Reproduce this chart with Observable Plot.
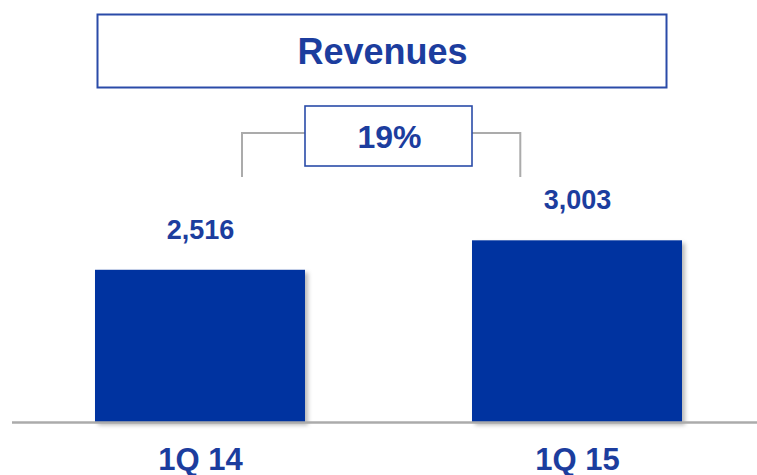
<!DOCTYPE html>
<html>
<head>
<meta charset="utf-8">
<script src="https://cdn.jsdelivr.net/npm/d3@7"></script>
<script src="https://cdn.jsdelivr.net/npm/@observablehq/plot@0.6"></script>
<style>
  html, body { margin: 0; padding: 0; background: #ffffff; }
  #chart { width: 757px; height: 475px; }
  .bars rect { filter: drop-shadow(3px 3px 2px rgba(0,0,0,0.28)); }
</style>
</head>
<body>
<div id="chart"></div>
<script>
// ---- data ----
const categories = ["1Q 14", "1Q 15"];
const revenues = [2516, 3003];
const valueLabels = ["2,516", "3,003"];
const titleText = "Revenues";
const growthLabel = "19%";

// ---- styling ----
const BAR = "#0033A0";
const TXT = "#1C3D9E";
const BOX = "#2A4BA8";
const GREY = "#ABABAB";
const FONT = "'Liberation Sans', Arial, Helvetica, sans-serif";
const padInner = 0.443;

const rows = categories.map((c, i) => ({cat: c, value: revenues[i], label: valueLabels[i]}));

// decorative boxes and bracket
function decorations(index, scales, values, dimensions) {
  const x = scales.x;
  const step = x(categories[1]) - x(categories[0]);
  let bw = x.bandwidth;
  if (typeof bw === "function") bw = bw();
  if (!(bw > 0)) bw = step * (1 - padInner);
  const x0 = x(categories[0]), x1 = x(categories[1]);
  const g = d3.create("svg:g");
  // title box
  g.append("rect").attr("x", 97.5).attr("y", 14.5).attr("width", 569).attr("height", 73)
    .attr("fill", "none").attr("stroke", BOX).attr("stroke-width", 2);
  // bracket
  const bl = x0 + bw * 0.70, br = x1 + bw * 0.23;
  const boxL = x0 + bw, boxR = x1;
  g.append("path")
    .attr("d", `M${bl},177V133H${boxL}M${boxR},133H${br}V177`)
    .attr("fill", "none").attr("stroke", GREY).attr("stroke-width", 2);
  // growth box
  g.append("rect").attr("x", boxL).attr("y", 106).attr("width", boxR - boxL).attr("height", 60)
    .attr("fill", "#fff").attr("stroke", BOX).attr("stroke-width", 1.6);
  return g.node();
}

const chart = Plot.plot({
  width: 757,
  height: 475,
  marginTop: 0,
  marginBottom: 53,
  marginLeft: 12,
  marginRight: 0,
  style: {fontFamily: FONT, background: "#fff", overflow: "visible"},
  x: {domain: categories, paddingInner: padInner, paddingOuter: 0.2095, align: 0.525, axis: null},
  y: {domain: [0, 6975], axis: null},
  marks: [
    Plot.barY(rows, {x: "cat", y: "value", fill: BAR, className: "bars"}),
    Plot.ruleY([0], {stroke: GREY, strokeWidth: 2.5}),
    Plot.text(rows, {x: "cat", y: "value", text: "label", dy: -40, fill: TXT,
      fontSize: 27, fontWeight: "bold", fontFamily: FONT}),
    Plot.axisX({tickSize: 0, tickPadding: 25, fontSize: 31, fontWeight: "bold",
      fill: TXT, label: null, fontFamily: FONT}),
    decorations,
    Plot.text([titleText], {frameAnchor: "top-left", textAnchor: "middle", lineAnchor: "middle",
      dx: 370, dy: 52, fill: TXT, fontSize: 36, fontWeight: "bold", fontFamily: FONT}),
    Plot.text([growthLabel], {frameAnchor: "top-left", textAnchor: "middle", lineAnchor: "middle",
      dx: 377, dy: 137, fill: TXT, fontSize: 32, fontWeight: "bold", fontFamily: FONT})
  ]
});
document.getElementById("chart").appendChild(chart);
</script>
</body>
</html>
